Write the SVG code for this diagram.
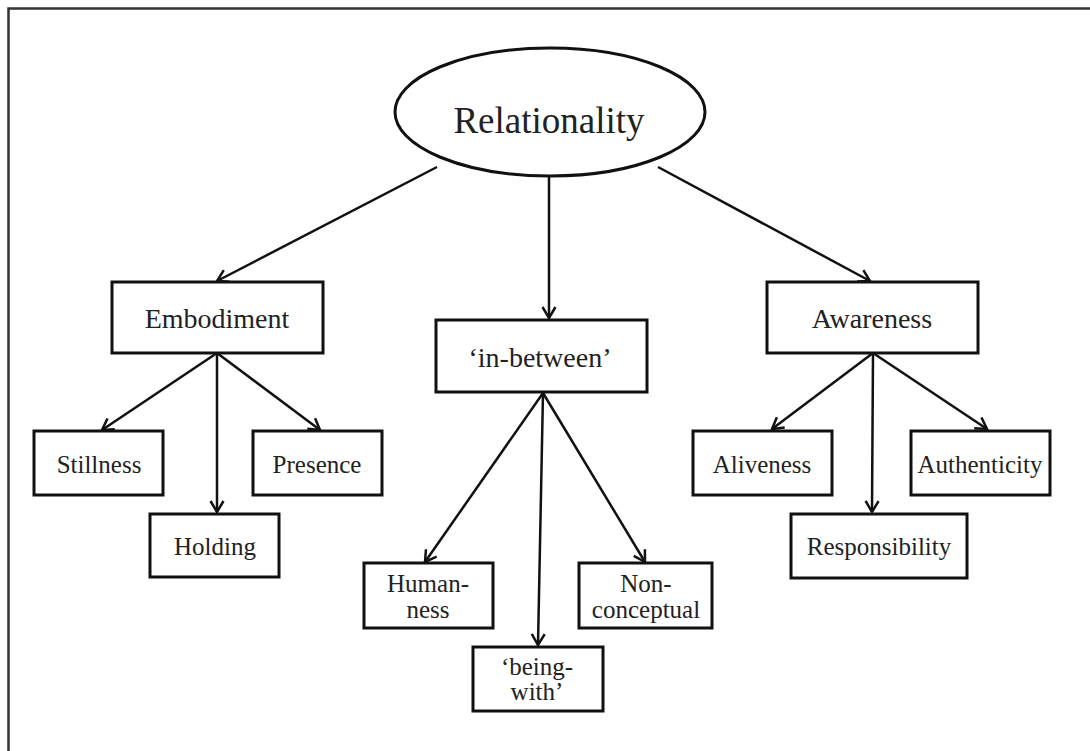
<svg xmlns="http://www.w3.org/2000/svg" width="1090" height="751" viewBox="0 0 1090 751">
<style>
.frame{fill:#fff;stroke:#333;stroke-width:2.5}
.box{fill:#fff;stroke:#111;stroke-width:3}
.conn line{stroke:#111;stroke-width:2.5;fill:none}
text{font-family:"Liberation Serif","Times New Roman",serif;fill:#222;text-anchor:middle}
.t1{font-size:37px}
.t2{font-size:28px}
.t3{font-size:25px}
</style>
<defs>
<marker id="arr" viewBox="-13 -8 15 16" refX="0" refY="0" markerWidth="15" markerHeight="16" markerUnits="userSpaceOnUse" orient="auto">
<path d="M-11,-6.5 L0,0 L-11,6.5" fill="none" stroke="#111" stroke-width="2.5"/>
</marker>
</defs>
<rect x="0" y="0" width="1090" height="751" fill="#fff"/>
<rect class="frame" x="8.5" y="8.5" width="1120" height="800"/>
<g class="conn">
<line x1="437" y1="167" x2="217" y2="281" marker-end="url(#arr)"/>
<line x1="549" y1="176" x2="549" y2="318" marker-end="url(#arr)"/>
<line x1="658" y1="167" x2="870" y2="281" marker-end="url(#arr)"/>
<line x1="217" y1="353" x2="102" y2="430" marker-end="url(#arr)"/>
<line x1="217" y1="353" x2="217" y2="512" marker-end="url(#arr)"/>
<line x1="217" y1="353" x2="320" y2="430" marker-end="url(#arr)"/>
<line x1="543" y1="393" x2="425" y2="562" marker-end="url(#arr)"/>
<line x1="543" y1="393" x2="538" y2="645" marker-end="url(#arr)"/>
<line x1="543" y1="393" x2="645" y2="562" marker-end="url(#arr)"/>
<line x1="873" y1="353" x2="772" y2="429" marker-end="url(#arr)"/>
<line x1="873" y1="353" x2="872" y2="512" marker-end="url(#arr)"/>
<line x1="873" y1="353" x2="987" y2="429" marker-end="url(#arr)"/>
</g>
<g id="relationality">
<ellipse class="box" cx="550" cy="112" rx="155" ry="64"/>
<text class="t1" x="549" y="133">Relationality</text>
</g>
<g id="embodiment">
<rect class="box" x="112" y="282" width="211" height="71"/>
<text class="t2" x="217" y="328">Embodiment</text>
</g>
<g id="inbetween">
<rect class="box" x="436" y="320" width="211" height="72"/>
<text class="t2" x="540" y="367">‘in-between’</text>
</g>
<g id="awareness">
<rect class="box" x="767" y="282" width="211" height="71"/>
<text class="t2" x="872" y="328">Awareness</text>
</g>
<g id="stillness">
<rect class="box" x="34" y="431" width="129" height="64"/>
<text class="t3" x="99" y="473">Stillness</text>
</g>
<g id="presence">
<rect class="box" x="253" y="431" width="129" height="64"/>
<text class="t3" x="317" y="473">Presence</text>
</g>
<g id="holding">
<rect class="box" x="150" y="514" width="129" height="63"/>
<text class="t3" x="215" y="555">Holding</text>
</g>
<g id="humanness">
<rect class="box" x="364" y="563" width="129" height="65"/>
<text class="t3" x="428" y="592">Human-</text>
<text class="t3" x="428" y="618">ness</text>
</g>
<g id="nonconceptual">
<rect class="box" x="579" y="563" width="133" height="65"/>
<text class="t3" x="646" y="592">Non-</text>
<text class="t3" x="646" y="618">conceptual</text>
</g>
<g id="beingwith">
<rect class="box" x="473" y="647" width="130" height="64"/>
<text class="t3" x="537" y="675">‘being-</text>
<text class="t3" x="537" y="700">with’</text>
</g>
<g id="aliveness">
<rect class="box" x="693" y="431" width="139" height="64"/>
<text class="t3" x="762" y="473">Aliveness</text>
</g>
<g id="authenticity">
<rect class="box" x="911" y="431" width="139" height="64"/>
<text class="t3" x="980" y="473">Authenticity</text>
</g>
<g id="responsibility">
<rect class="box" x="791" y="514" width="176" height="64"/>
<text class="t3" x="879" y="555">Responsibility</text>
</g>
</svg>
